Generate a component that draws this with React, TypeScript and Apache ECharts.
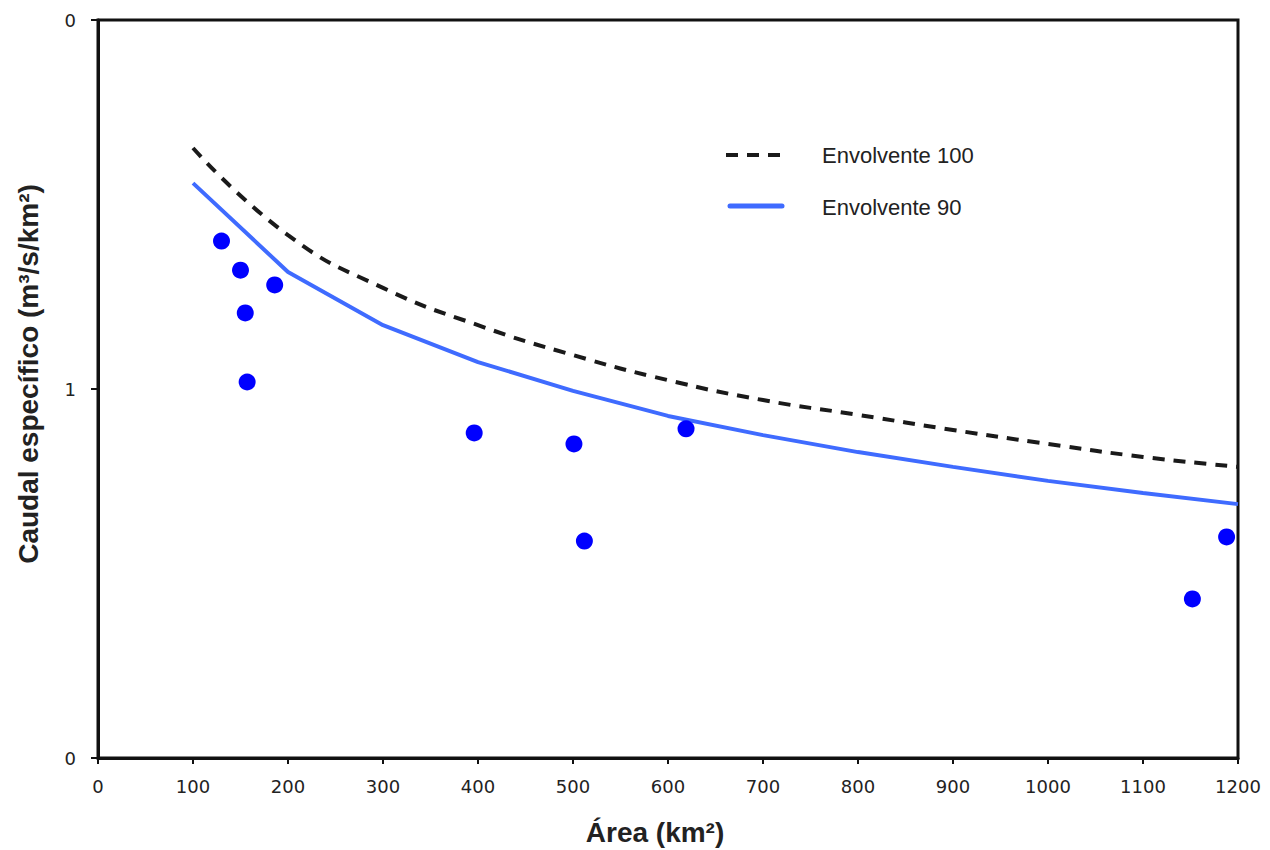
import React, { useEffect, useRef } from "react";
import * as echarts from "echarts";

const areas = [100, 200, 300, 400, 500, 600, 700, 800, 900, 1000, 1100, 1200];
const env100 = [1.653, 1.417, 1.274, 1.173, 1.092, 1.024, 0.97, 0.93, 0.889, 0.851, 0.816, 0.789];
const env90 = [1.558, 1.317, 1.173, 1.073, 0.995, 0.927, 0.875, 0.829, 0.789, 0.751, 0.718, 0.688];
const obsArea = [130, 150, 186, 155, 157, 396, 501, 512, 619, 1152, 1188];
const obsQ = [1.401, 1.322, 1.282, 1.206, 1.019, 0.881, 0.851, 0.588, 0.892, 0.431, 0.599];
const yTickLabels = ["0", "1", "0"];
const seriesNames = ["Envolvente 100", "Envolvente 90"];

const DASH_COLOR = "#1a1a1a";
const BLUE_LINE = "#3f6bff";

export default function App() {
  const ref = useRef<HTMLDivElement>(null);
  useEffect(() => {
    if (!ref.current) return;
    const chart = echarts.init(ref.current, null, { renderer: "svg" });
    const labelFont = "'Liberation Sans', Arial, sans-serif";
    const tickFont = "'DejaVu Sans', sans-serif";
    chart.setOption({
      animation: false,
      backgroundColor: "#ffffff",
      grid: {
        left: 98,
        top: 20,
        right: 32,
        bottom: 92,
        show: true,
        borderColor: "#111",
        borderWidth: 3,
      },
      xAxis: {
        type: "value",
        min: 0,
        max: 1200,
        interval: 100,
        axisLine: { show: true, lineStyle: { color: "#111", width: 3 } },
        axisTick: { show: true, length: 6, lineStyle: { color: "#111", width: 2 } },
        axisLabel: {
          margin: 19,
          fontSize: 18,
          color: "#222",
          fontFamily: tickFont,
          formatter: (v: number) => String(v),
        },
        splitLine: { show: false },
      },
      yAxis: {
        type: "value",
        min: 0,
        max: 2,
        interval: 1,
        axisLine: { show: true, lineStyle: { color: "#111", width: 3 } },
        axisTick: { show: true, length: 7, lineStyle: { color: "#111", width: 2 } },
        axisLabel: {
          margin: 22,
          fontSize: 18,
          color: "#222",
          fontFamily: tickFont,
          formatter: (_v: number, i: number) => yTickLabels[i],
        },
        splitLine: { show: false },
      },
      graphic: [
        {
          type: "text",
          x: 655,
          y: 832,
          style: {
            text: "Área (km²)",
            align: "center",
            verticalAlign: "middle",
            font: `bold 28px ${labelFont}`,
            fill: "#222",
          },
        },
        {
          type: "text",
          x: 28,
          y: 374,
          rotation: Math.PI / 2,
          style: {
            text: "Caudal específico (m³/s/km²)",
            align: "center",
            verticalAlign: "middle",
            font: `bold 28px ${labelFont}`,
            fill: "#222",
          },
        },
        {
          type: "line",
          shape: { x1: 726, y1: 155, x2: 784, y2: 155 },
          style: { stroke: DASH_COLOR, lineWidth: 4, lineDash: [12, 9] },
        },
        {
          type: "text",
          x: 822,
          y: 155,
          style: {
            text: seriesNames[0],
            verticalAlign: "middle",
            font: `22px ${labelFont}`,
            fill: "#222",
          },
        },
        {
          type: "line",
          shape: { x1: 730, y1: 206, x2: 782, y2: 206 },
          style: { stroke: BLUE_LINE, lineWidth: 5, lineCap: "round" },
        },
        {
          type: "text",
          x: 822,
          y: 207,
          style: {
            text: seriesNames[1],
            verticalAlign: "middle",
            font: `22px ${labelFont}`,
            fill: "#222",
          },
        },
      ],
      series: [
        {
          name: seriesNames[0],
          type: "line",
          data: areas.map((a, i) => [a, env100[i]]),
          smooth: true,
          symbol: "none",
          lineStyle: { color: DASH_COLOR, width: 4, type: [12, 9] },
          z: 3,
        },
        {
          name: seriesNames[1],
          type: "line",
          data: areas.map((a, i) => [a, env90[i]]),
          symbol: "none",
          lineStyle: { color: BLUE_LINE, width: 4 },
          z: 3,
        },
        {
          name: "Observado",
          type: "scatter",
          data: obsArea.map((a, i) => [a, obsQ[i]]),
          symbol: "circle",
          symbolSize: 17,
          itemStyle: { color: "#0000ff", opacity: 1 },
          z: 4,
        },
      ],
    });
    return () => chart.dispose();
  }, []);
  return (
    <div
      ref={ref}
      style={{ position: "fixed", left: 0, top: 0, width: 1270, height: 850, background: "#fff" }}
    />
  );
}
